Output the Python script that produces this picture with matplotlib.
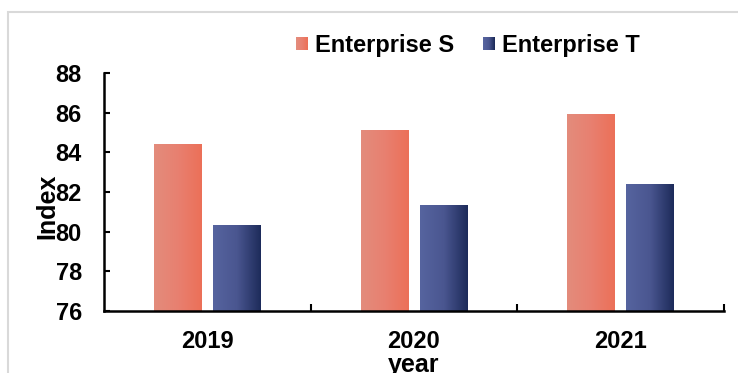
import matplotlib
matplotlib.use("Agg")
import matplotlib.pyplot as plt
import numpy as np
from matplotlib.colors import LinearSegmentedColormap
from matplotlib.legend_handler import HandlerBase
from matplotlib.patches import Rectangle

plt.rcParams['font.family'] = ['Liberation Sans', 'DejaVu Sans']
plt.rcParams['font.weight'] = 'bold'

# -------------------------------------------------------------

years = ["2019", "2020", "2021"]
series_names = ["Enterprise S", "Enterprise T"]
index_S = [84.4, 85.1, 85.9]
index_T = [80.3, 81.3, 82.4]

ymin, ymax = 76, 88
bar_width = 0.23
offset = 0.143

cmap_S = LinearSegmentedColormap.from_list("S", ["#e38c7c", "#e88070", "#ec7058"])
cmap_T = LinearSegmentedColormap.from_list("T", ["#56649f", "#4a5690", "#1d2b5a"])

# -------------------------------------------------------------


class GradientHandler(HandlerBase):
    """Legend key drawn as a small horizontally shaded square."""

    def __init__(self, cmap, nstrips=12):
        super().__init__()
        self.cmap = cmap
        self.nstrips = nstrips

    def create_artists(self, legend, orig_handle, xdescent, ydescent,
                       width, height, fontsize, trans):
        arts = []
        dw = width / self.nstrips
        for i in range(self.nstrips):
            r = Rectangle((-xdescent + i * dw, -ydescent), dw * 1.05, height,
                          facecolor=self.cmap(i / (self.nstrips - 1)),
                          edgecolor='none', transform=trans)
            arts.append(r)
        return arts


def gradient_bars(ax, xpos, values, cmap):
    bars = ax.bar(xpos, values, bar_width, facecolor='none', edgecolor='none')
    grad = np.linspace(0, 1, 256).reshape(1, -1)
    for b in bars:
        x0 = b.get_x()
        x1 = x0 + b.get_width()
        ax.imshow(grad, extent=[x0, x1, ymin, b.get_height()], aspect='auto',
                  cmap=cmap, zorder=2, interpolation='bicubic')
    return bars


fig = plt.figure(figsize=(7.38, 3.73), dpi=100)
ax = fig.add_axes([0.1409, 0.1662, 0.840, 0.638])

x = np.arange(len(years))
bars_S = gradient_bars(ax, x - offset, index_S, cmap_S)
bars_T = gradient_bars(ax, x + offset, index_T, cmap_T)

ax.set_xlim(-0.5, len(years) - 0.5)
ax.set_ylim(ymin, ymax)
ax.set_yticks(np.arange(ymin, ymax + 1, 2))

ax.set_xticks(x)
ax.set_xticklabels(years)
ax.set_xticks(np.arange(len(years)) + 0.5, minor=True)
ax.tick_params(axis='x', which='major', length=0, pad=14, labelsize=17)
ax.tick_params(axis='x', which='minor', direction='in', length=5, width=1.5)
ax.tick_params(axis='y', direction='in', length=4, width=1.5, pad=16, labelsize=17)

for side in ['top', 'right']:
    ax.spines[side].set_visible(False)
for side in ['left', 'bottom']:
    ax.spines[side].set_linewidth(1.8)

ax.set_xlabel("year", fontsize=18, fontweight='bold', labelpad=0)
ax.set_ylabel("Index", fontsize=18, fontweight='bold')
ax.yaxis.set_label_coords(-0.072, 0.44)

leg = fig.legend([bars_S, bars_T], series_names,
                 handler_map={bars_S: GradientHandler(cmap_S), bars_T: GradientHandler(cmap_T)},
                 loc='center', bbox_to_anchor=(0.634, 0.879), ncol=2, frameon=False,
                 prop={'size': 17, 'weight': 'bold'},
                 handlelength=0.5, handleheight=0.5, handletextpad=0.3, columnspacing=1.2)

# light outer frame
fig.patches.append(Rectangle((8 / 738, -0.1), 1.2, 1 - 12 / 373 + 0.1,
                             transform=fig.transFigure, fill=False,
                             edgecolor='#d9d9d9', linewidth=1.5))

plt.savefig("out.png", dpi=100)
